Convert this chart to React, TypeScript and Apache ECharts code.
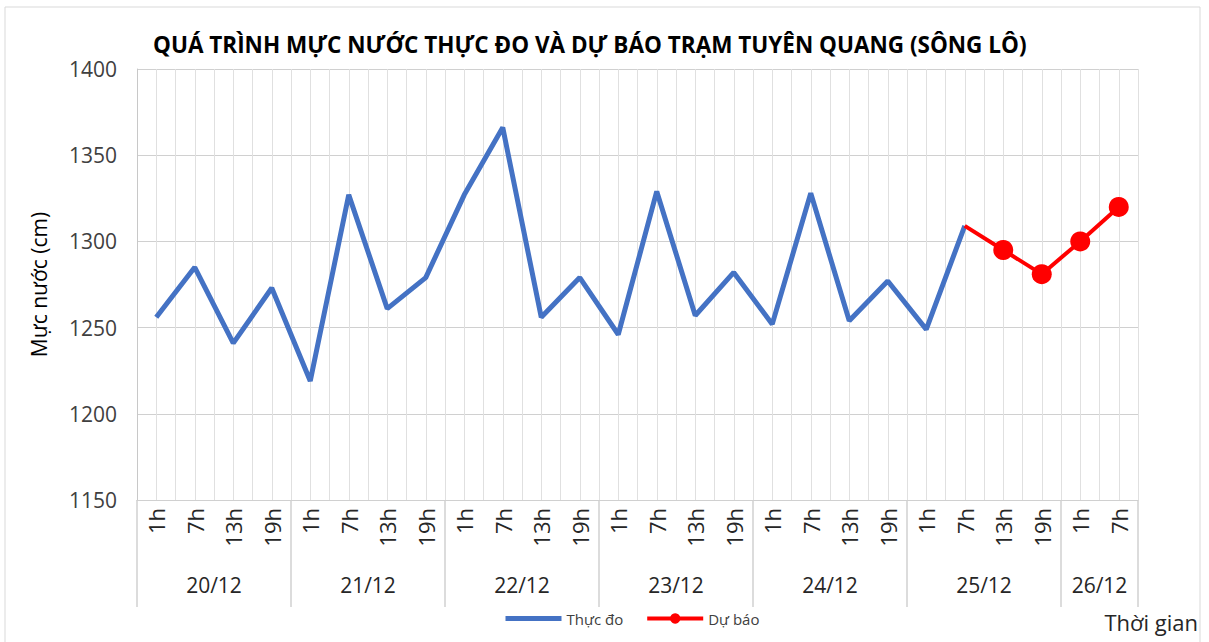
import React, { useEffect, useRef } from "react";
import * as echarts from "echarts";

const categories = [
  "20/12 1h", "20/12 7h", "20/12 13h", "20/12 19h",
  "21/12 1h", "21/12 7h", "21/12 13h", "21/12 19h",
  "22/12 1h", "22/12 7h", "22/12 13h", "22/12 19h",
  "23/12 1h", "23/12 7h", "23/12 13h", "23/12 19h",
  "24/12 1h", "24/12 7h", "24/12 13h", "24/12 19h",
  "25/12 1h", "25/12 7h", "25/12 13h", "25/12 19h",
  "26/12 1h", "26/12 7h",
];
const dayLabels = ["20/12", "21/12", "22/12", "23/12", "24/12", "25/12", "26/12"];
const daySizes = [4, 4, 4, 4, 4, 4, 2];

const measured: (number | null)[] = [
  1256, 1285, 1241, 1273,
  1219, 1327, 1261, 1279,
  1327, 1366, 1256, 1279,
  1246, 1329, 1257, 1282,
  1252, 1328, 1254, 1277,
  1249, 1309, null, null,
  null, null,
];
const forecast: (number | null)[] = [
  null, null, null, null,
  null, null, null, null,
  null, null, null, null,
  null, null, null, null,
  null, null, null, null,
  null, 1309, 1295, 1281,
  1300, 1320,
];

const Y_MIN = 1150;
const Y_MAX = 1400;
const Y_STEP = 50;

const TITLE = "QUÁ TRÌNH MỰC NƯỚC THỰC ĐO VÀ DỰ BÁO TRẠM TUYÊN QUANG (SÔNG LÔ)";
const FONT = "'Open Sans', 'Noto Sans', sans-serif";

export default function App() {
  const ref = useRef<HTMLDivElement>(null);
  useEffect(() => {
    if (!ref.current) return;
    const chart = echarts.init(ref.current, null, { renderer: "svg" });
    const halfSlots = categories.flatMap((c) => [c + " a", c + " b"]);
    const firstForecast = forecast.findIndex((v) => v != null);
    const forecastData = forecast.map((v, i) =>
      i === firstForecast ? { value: v, symbol: "none" } : v
    );

    chart.setOption({
      animation: false,
      backgroundColor: "#ffffff",
      textStyle: { fontFamily: FONT },
      title: {
        text: TITLE,
        left: 148,
        top: 28,
        textStyle: { fontFamily: FONT, fontSize: 22.5, fontWeight: "bold", color: "#000" },
      },
      grid: { left: 137, right: 71, top: 69, bottom: 142 },
      legend: {
        data: [
          { name: "Thực đo", itemStyle: { opacity: 0 }, lineStyle: { width: 5 } },
          { name: "Dự báo", lineStyle: { width: 4 } },
        ],
        left: 498,
        top: 606,
        itemWidth: 56,
        itemHeight: 13,
        itemGap: 22,
        textStyle: { fontFamily: FONT, fontSize: 15, color: "#404040" },
      },
      xAxis: [
        {
          type: "category",
          data: categories,
          boundaryGap: true,
          axisLine: { show: true, lineStyle: { color: "#d0d0d0", width: 1 } },
          axisTick: { show: false },
          splitLine: { show: false },
          axisLabel: {
            rotate: 90,
            interval: 0,
            margin: 8,
            fontSize: 22,
            color: "#262626",
            fontFamily: FONT,
            formatter: (v: string) => v.split(" ")[1],
          },
        },
        {
          type: "category",
          data: halfSlots,
          boundaryGap: true,
          position: "bottom",
          axisLine: { show: false },
          axisTick: { show: false },
          axisLabel: { show: false },
          splitLine: { show: true, interval: 0, lineStyle: { color: "#e0e0e0", width: 1 } },
        },
      ],
      yAxis: {
        type: "value",
        min: Y_MIN,
        max: Y_MAX,
        interval: Y_STEP,
        axisLine: { show: true, lineStyle: { color: "#c8c8c8" } },
        axisTick: { show: false },
        axisLabel: {
          fontSize: 21,
          color: "#404040",
          margin: 20,
          fontFamily: FONT,
          formatter: (v: number) => String(v),
        },
        splitLine: { lineStyle: { color: "#d0d0d0", width: 1 } },
        name: "Mực nước (cm)",
        nameLocation: "middle",
        nameGap: 88,
        nameRotate: 90,
        nameTextStyle: { fontSize: 21, color: "#000", fontFamily: FONT },
      },
      series: [
        {
          name: "Thực đo",
          type: "line",
          xAxisIndex: 0,
          data: measured,
          symbol: "none",
          lineStyle: { color: "#4472C4", width: 5 },
          itemStyle: { color: "#4472C4" },
          z: 2,
        },
        {
          name: "Dự báo",
          type: "line",
          xAxisIndex: 0,
          data: forecastData,
          symbol: "circle",
          symbolSize: 20,
          showSymbol: true,
          lineStyle: { color: "#FF0000", width: 4 },
          itemStyle: { color: "#FF0000" },
          z: 3,
        },
      ],
    });

    const px = (i: number) => chart.convertToPixel({ xAxisIndex: 0 }, i) as number;
    const step = px(1) - px(0);
    const yBottom = chart.convertToPixel({ yAxisIndex: 0 }, Y_MIN) as number;
    const elements: any[] = [
      {
        type: "rect",
        shape: { x: 5, y: 7, width: 1195, height: 645 },
        style: { fill: "none", stroke: "#d9d9d9", lineWidth: 1 },
        silent: true,
      },
    ];
    let start = 0;
    daySizes.forEach((size, d) => {
      const xLeft = px(start) - step / 2;
      elements.push({
        type: "line",
        shape: { x1: xLeft, y1: yBottom, x2: xLeft, y2: yBottom + 107 },
        style: { stroke: "#d0d0d0", lineWidth: 1.5 },
        silent: true,
      });
      const center = (px(start) + px(start + size - 1)) / 2;
      elements.push({
        type: "text",
        x: center,
        y: yBottom + 85,
        style: {
          text: dayLabels[d],
          fontSize: 21,
          fontFamily: FONT,
          fill: "#262626",
          align: "center",
          verticalAlign: "middle",
        },
        silent: true,
      });
      start += size;
    });
    const xRight = px(categories.length - 1) + step / 2;
    elements.push({
      type: "line",
      shape: { x1: xRight, y1: yBottom, x2: xRight, y2: yBottom + 107 },
      style: { stroke: "#d0d0d0", lineWidth: 1.5 },
      silent: true,
    });
    elements.push({
      type: "text",
      x: 1198,
      y: 622,
      style: {
        text: "Thời gian",
        fontSize: 22,
        fontFamily: FONT,
        fill: "#262626",
        align: "right",
        verticalAlign: "middle",
      },
      silent: true,
    });
    chart.setOption({ graphic: { elements } });

    return () => chart.dispose();
  }, []);

  return (
    <div
      ref={ref}
      style={{ position: "absolute", left: 0, top: 0, width: 1209, height: 642 }}
    />
  );
}
